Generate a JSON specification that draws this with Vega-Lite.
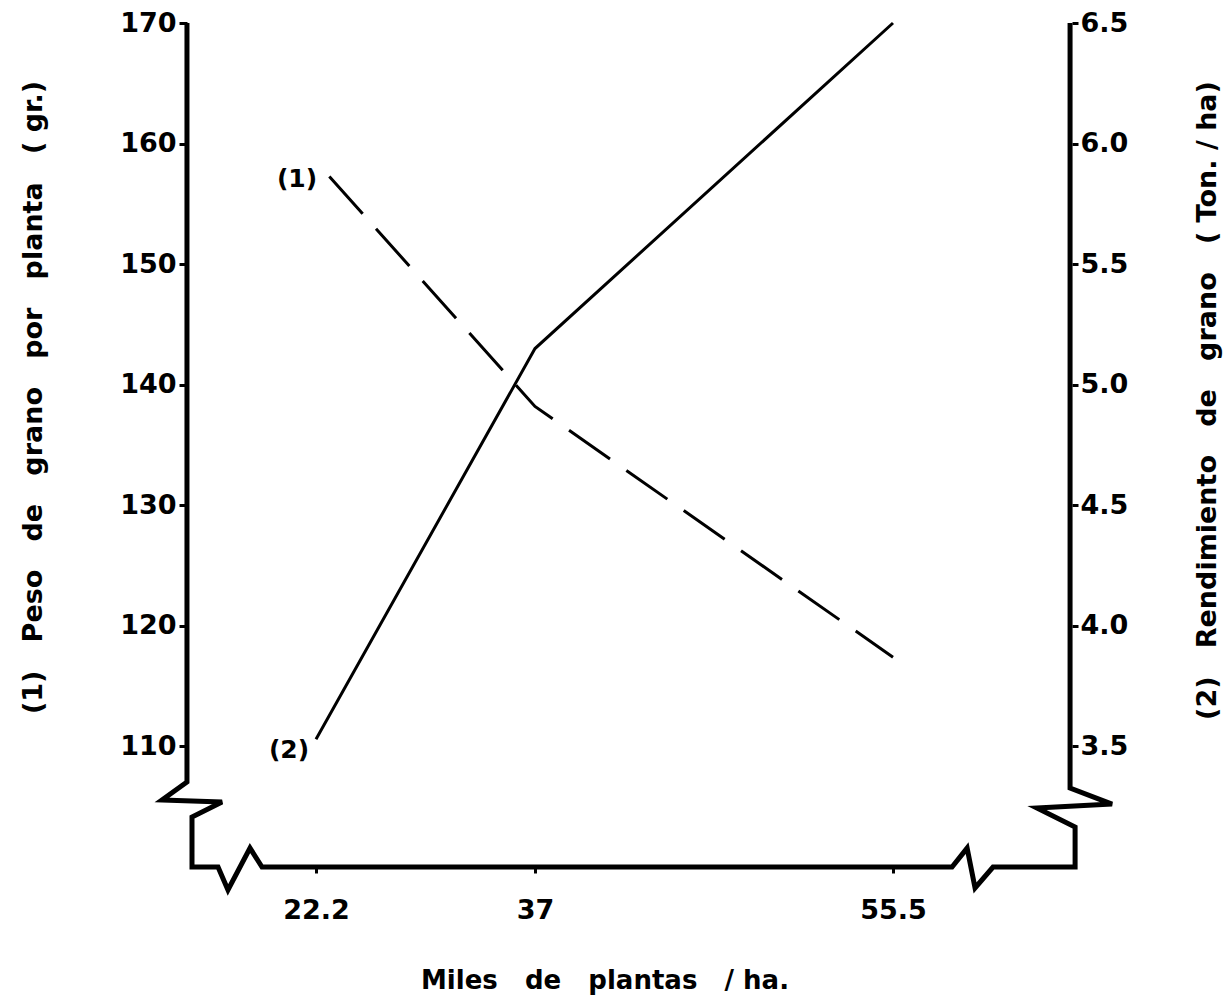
{
  "$schema": "https://vega.github.io/schema/vega-lite/v6.json",
  "width": 885,
  "height": 844,
  "autosize": {"type": "none"},
  "padding": {"left": 187, "top": 23, "right": 158, "bottom": 138},
  "background": "white",
  "config": {
    "view": {"stroke": null},
    "axis": {
      "grid": false,
      "domain": false,
      "labelFont": "DejaVu Sans",
      "titleFont": "DejaVu Sans",
      "labelColor": "black",
      "titleColor": "black",
      "tickColor": "black",
      "labelFontSize": 27,
      "labelFontWeight": "bold",
      "titleFontSize": 27,
      "titleFontWeight": "bold",
      "tickWidth": 3
    }
  },
  "encoding": {
    "x": {
      "field": "x", "type": "quantitative",
      "scale": {"domain": [22.2, 37, 55.5], "range": [129, 348, 706], "nice": false, "zero": false},
      "axis": {
        "values": [22.2, 37, 55.5],
        "labelExpr": "datum.value + ''",
        "labelFlush": false,
        "tickSize": 6,
        "labelPadding": 24,
        "title": "Miles\u00a0\u00a0\u00a0de\u00a0\u00a0\u00a0plantas\u00a0\u00a0\u00a0/\u00a0ha.",
        "titleFontSize": 26,
        "titlePadding": 44
      }
    }
  },
  "layer": [
    {
      "layer": [
        {
          "data": {"values": [
            {"o": 1, "x": 13.48, "y": 170},
            {"o": 2, "x": 13.48, "y": 107.05},
            {"o": 3, "x": 11.79, "y": 105.56},
            {"o": 4, "x": 15.85, "y": 105.39},
            {"o": 5, "x": 13.82, "y": 104.15},
            {"o": 6, "x": 13.82, "y": 100},
            {"o": 7, "x": 15.58, "y": 100},
            {"o": 8, "x": 16.25, "y": 98.09},
            {"o": 9, "x": 17.74, "y": 101.57},
            {"o": 10, "x": 18.55, "y": 100},
            {"o": 11, "x": 58.55, "y": 100},
            {"o": 12, "x": 59.33, "y": 101.57},
            {"o": 13, "x": 59.74, "y": 98.26},
            {"o": 14, "x": 60.67, "y": 100},
            {"o": 15, "x": 64.91, "y": 100},
            {"o": 16, "x": 64.91, "y": 103.32},
            {"o": 17, "x": 62.94, "y": 104.89},
            {"o": 18, "x": 66.82, "y": 105.22},
            {"o": 19, "x": 64.65, "y": 106.55},
            {"o": 20, "x": 64.65, "y": 170}
          ]},
          "mark": {"type": "line", "color": "black", "strokeWidth": 5, "strokeJoin": "miter", "clip": false},
          "encoding": {
            "y": {
              "field": "y", "type": "quantitative",
              "scale": {"domain": [100, 170], "nice": false, "zero": false},
              "axis": {
                "orient": "left",
                "values": [110, 120, 130, 140, 150, 160, 170],
                "tickSize": 8,
                "labelPadding": 3,
                "title": "(1)\u00a0\u00a0\u00a0Peso\u00a0\u00a0\u00a0de\u00a0\u00a0\u00a0grano\u00a0\u00a0\u00a0por\u00a0\u00a0\u00a0planta\u00a0\u00a0\u00a0(\u00a0gr.)",
                "titlePadding": 72,
                "titleY": 374
              }
            },
            "order": {"field": "o", "type": "quantitative"}
          }
        },
        {
          "data": {"values": [
            {"x": 22.2, "peso": 158.5},
            {"x": 37, "peso": 138.2},
            {"x": 55.5, "peso": 117.4}
          ]},
          "mark": {"type": "line", "color": "black", "strokeWidth": 3, "strokeDash": [50, 20], "strokeDashOffset": 50},
          "encoding": {
            "y": {"field": "peso", "type": "quantitative"}
          }
        },
        {
          "data": {"values": [{"x": 22.2, "peso": 158.5, "t": "(1)"}]},
          "mark": {"type": "text", "font": "DejaVu Sans", "fontSize": 25, "fontWeight": "bold", "dx": -19, "dy": 17, "color": "black"},
          "encoding": {
            "y": {"field": "peso", "type": "quantitative"},
            "text": {"field": "t"}
          }
        }
      ]
    },
    {
      "layer": [
        {
          "data": {"values": [
            {"x": 22.2, "rend": 3.53},
            {"x": 37, "rend": 5.15},
            {"x": 55.5, "rend": 6.5}
          ]},
          "mark": {"type": "line", "color": "black", "strokeWidth": 3},
          "encoding": {
            "y": {
              "field": "rend", "type": "quantitative",
              "scale": {"domain": [3.0, 6.5], "nice": false, "zero": false},
              "axis": {
                "orient": "right",
                "values": [3.5, 4.0, 4.5, 5.0, 5.5, 6.0, 6.5],
                "format": ".1f",
                "tickSize": 6,
                "labelPadding": 2,
                "title": "(2)\u00a0\u00a0\u00a0Rendimiento\u00a0\u00a0\u00a0de\u00a0\u00a0\u00a0grano\u00a0\u00a0\u00a0(\u00a0Ton.\u00a0/\u00a0ha)",
                "titleAngle": 270,
                "titlePadding": 94,
                "titleY": 377
              }
            }
          }
        },
        {
          "data": {"values": [{"x": 22.2, "rend": 3.53, "t": "(2)"}]},
          "mark": {"type": "text", "font": "DejaVu Sans", "fontSize": 25, "fontWeight": "bold", "dx": -27, "dy": 11, "color": "black"},
          "encoding": {
            "y": {"field": "rend", "type": "quantitative"},
            "text": {"field": "t"}
          }
        }
      ]
    }
  ],
  "resolve": {"scale": {"y": "independent"}}
}
